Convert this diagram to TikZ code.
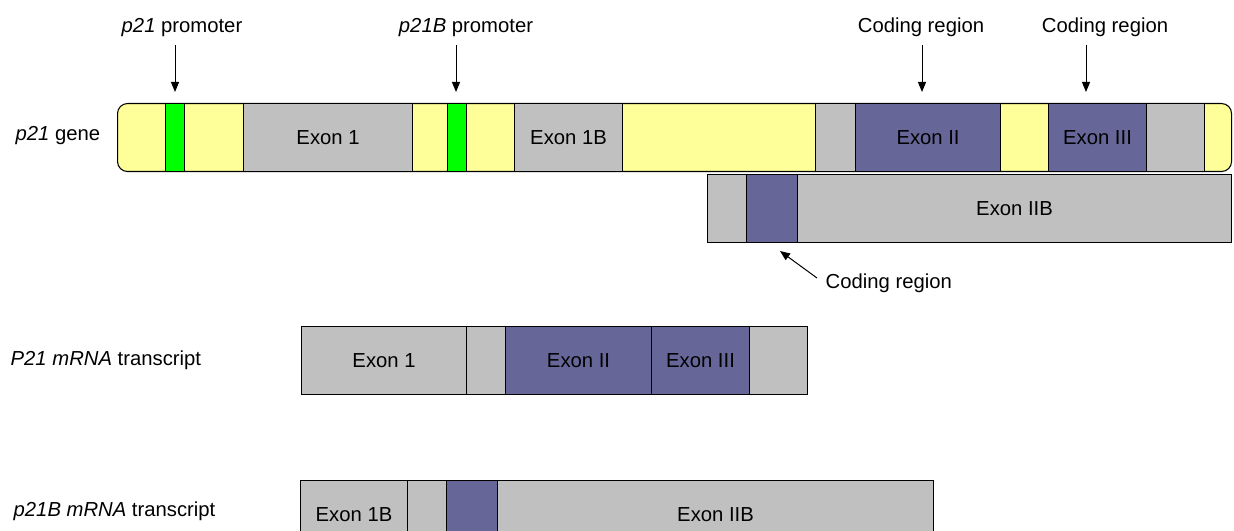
\documentclass[tikz,border=0pt]{standalone}
\usepackage{fontspec}
\setmainfont{Liberation Sans}
\usetikzlibrary{arrows.meta, positioning}
\definecolor{intron}{HTML}{FFFF99}
\definecolor{promgreen}{HTML}{00FF00}
\definecolor{exgrey}{HTML}{C0C0C0}
\definecolor{exblue}{HTML}{666699}

\begin{document}
\begin{tikzpicture}[x=0.75pt, y=-0.75pt,
  font=\fontsize{15.2}{18}\selectfont,
  blk/.style={draw, line width=0.8pt, anchor=north west, inner sep=0pt, minimum height=51pt},
  utr/.style={blk, fill=exgrey},
  cds/.style={blk, fill=exblue},
  prom/.style={blk, fill=promgreen},
  arr/.style={-{Triangle[length=7.5pt,width=6pt]}, line width=0.75pt}]
  \clip (0,0) rectangle (1234,531);

  % p21 gene
  \node[blk, fill=intron, rounded corners=7.5pt, minimum width=835.5pt] (gene) at (117,103) {};
  \node[prom, minimum width=14.25pt] (g1) at (165,103) {};
  \node[utr, minimum width=126.75pt] (e1) at (243,103) {Exon 1};
  \node[prom, minimum width=14.25pt] (g2) at (447,103) {};
  \node[utr, minimum width=81pt] (e1b) at (514,103) {Exon 1B};
  \node[utr, minimum width=30pt] (ga) at (815,103) {};
  \node[cds, minimum width=108.75pt] (e2) at (855,103) {Exon II};
  \node[cds, minimum width=73.5pt] (e3) at (1048,103) {Exon III};
  \node[utr, minimum width=43.5pt] (gb) at (1146,103) {};

  % Exon IIB under the gene
  \node[utr, minimum width=29.25pt] (iibl) at (707,174) {};
  \node[cds, minimum width=38.25pt] (iibc) at (746,174) {};
  \node[utr, minimum width=325.5pt] (iib) at (797,174) {Exon IIB};

  % P21 mRNA
  \node[utr, minimum width=123.75pt] (m1) at (301,326) {Exon 1};
  \node[utr, minimum width=29.25pt] (m1g) at (466,326) {};
  \node[cds, minimum width=109.5pt] (m1e2) at (505,326) {Exon II};
  \node[cds, minimum width=73.5pt] (m1e3) at (651,326) {Exon III};
  \node[utr, minimum width=43.5pt] (m1t) at (749,326) {};

  % p21B mRNA
  \node[utr, minimum width=80.25pt] (m2) at (300,480) {Exon 1B};
  \node[utr, minimum width=29.25pt] (m2g) at (407,480) {};
  \node[cds, minimum width=38.25pt] (m2c) at (446,480) {};
  \node[utr, minimum width=327pt] (m2iib) at (497,480) {Exon IIB};

  % Labels
  \node (lp1) at (182,28) {\textit{p21} promoter};
  \node (lp2) at (466,28) {\textit{p21B} promoter};
  \node (lc1) at (921,27) {Coding region};
  \node (lc2) at (1105,27) {Coding region};
  \node[anchor=west] (lcb) at (821,283) {Coding region};
  \node[anchor=west] (lgene) at (11,136) {\textit{p21} gene};
  \node[anchor=west] (lm1) at (6,360) {\textit{P21 mRNA} transcript};
  \node[anchor=west] (lm2) at (9,511) {\textit{p21B mRNA} transcript};

  % Arrows
  \coordinate (t1) at (175,92);
  \coordinate (t2) at (456,92);
  \coordinate (t3) at (922,92);
  \coordinate (t4) at (1086,92);
  \coordinate (tailb) at (817,278);
  \coordinate (tipb) at (780,251);
  \draw[arr] (t1 |- 0,45) -- (t1);
  \draw[arr] (t2 |- 0,45) -- (t2);
  \draw[arr] (t3 |- 0,45) -- (t3);
  \draw[arr] (t4 |- 0,45) -- (t4);
  \draw[arr] (tailb) -- (tipb);
\end{tikzpicture}
\end{document}
